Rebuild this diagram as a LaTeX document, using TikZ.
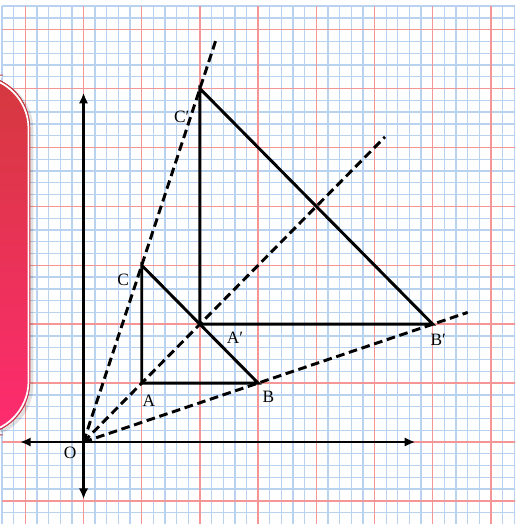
\documentclass[tikz,border=0pt]{standalone}
\usepackage{fontspec}
\setmainfont{Liberation Serif}
\usetikzlibrary{arrows.meta}
\definecolor{minorc}{RGB}{184,210,240}
\definecolor{majorc}{RGB}{244,150,150}
\definecolor{shtop}{RGB}{212,57,62}
\definecolor{shbot}{RGB}{255,43,112}
\definecolor{shedge}{RGB}{200,60,70}
\begin{document}
\begin{tikzpicture}[x=43.65pt,y=44.175pt,
  minorline/.style={draw=minorc,line width=1pt},
  majorline/.style={draw=majorc,line width=1.1pt},
  axisline/.style={line width=2.2pt,-{Latex[length=8pt,width=7pt]}},
  triline/.style={line width=2.2pt,line join=miter},
  rayline/.style={line width=2.2pt,dash pattern=on 6.5pt off 3.5pt},
  lbl/.style={font=\fontsize{13pt}{15pt}\selectfont,inner sep=0pt}]
\useasboundingbox (-1.435,-1.392) rectangle (7.414,7.504);
\clip (-1.435,-1.392) rectangle (7.414,7.504);
% grid
\foreach \i in {-7,...,37} {
  \draw[minorline] (\i/5,-1.45) -- (\i/5,7.4);
  \draw[minorline] (-1.4,\i/5) -- (7.45,\i/5);
}
\foreach \i in {-1,...,7} {
  \draw[majorline] (\i,-1.45) -- (\i,7.4);
  \draw[majorline] (-1.4,\i) -- (7.45,\i);
}
% decorative shape
\fill[black,opacity=0.12,rounded corners=40pt] (-2.25,0.07) rectangle (-0.86,6.2);
\fill[top color=shtop,bottom color=shbot,rounded corners=40pt] (-2.3,0.12) rectangle (-0.92,6.23);
\draw[white,line width=1.3pt,rounded corners=39pt] (-2.3,0.15) rectangle (-0.945,6.2);
\draw[shedge,line width=0.5pt,rounded corners=40pt] (-2.3,0.12) rectangle (-0.92,6.23);
% points
\coordinate (O) at (0,0);
\coordinate (A) at (1,1);
\coordinate (B) at (3,1);
\coordinate (C) at (1,3);
\coordinate (A2) at (2,2);
\coordinate (B2) at (6,2);
\coordinate (C2) at (2,6);
\coordinate (xl) at (-1.09,0);
\coordinate (xr) at (5.70,0);
\coordinate (yb) at (0,-0.97);
\coordinate (yt) at (0,5.93);
\coordinate (rc) at (2.28,6.84);
\coordinate (ra) at (5.18,5.18);
\coordinate (rb) at (6.6,2.2);
% axes
\draw[axisline] (O) -- (xr);
\draw[axisline] (O) -- (xl);
\draw[axisline] (O) -- (yt);
\draw[axisline] (O) -- (yb);
% triangles
\draw[triline] (A) -- (B) -- (C) -- cycle;
\draw[triline] (A2) -- (B2) -- (C2) -- cycle;
% rays
\draw[rayline] (O) -- (rc);
\draw[rayline] (O) -- (ra);
\draw[rayline] (O) -- (rb);
% labels
\node[lbl] (lO) at (-0.232,-0.182) {O};
\node[lbl] (lA) at (1.125,0.701) {A};
\node[lbl] (lB) at (3.175,0.769) {B};
\node[lbl] (lC) at (0.679,2.75) {C};
\node[lbl] (lA2) at (2.603,1.771) {A′};
\node[lbl] (lB2) at (6.096,1.732) {B′};
\node[lbl] (lC2) at (1.687,5.523) {C′};
\end{tikzpicture}
\end{document}
